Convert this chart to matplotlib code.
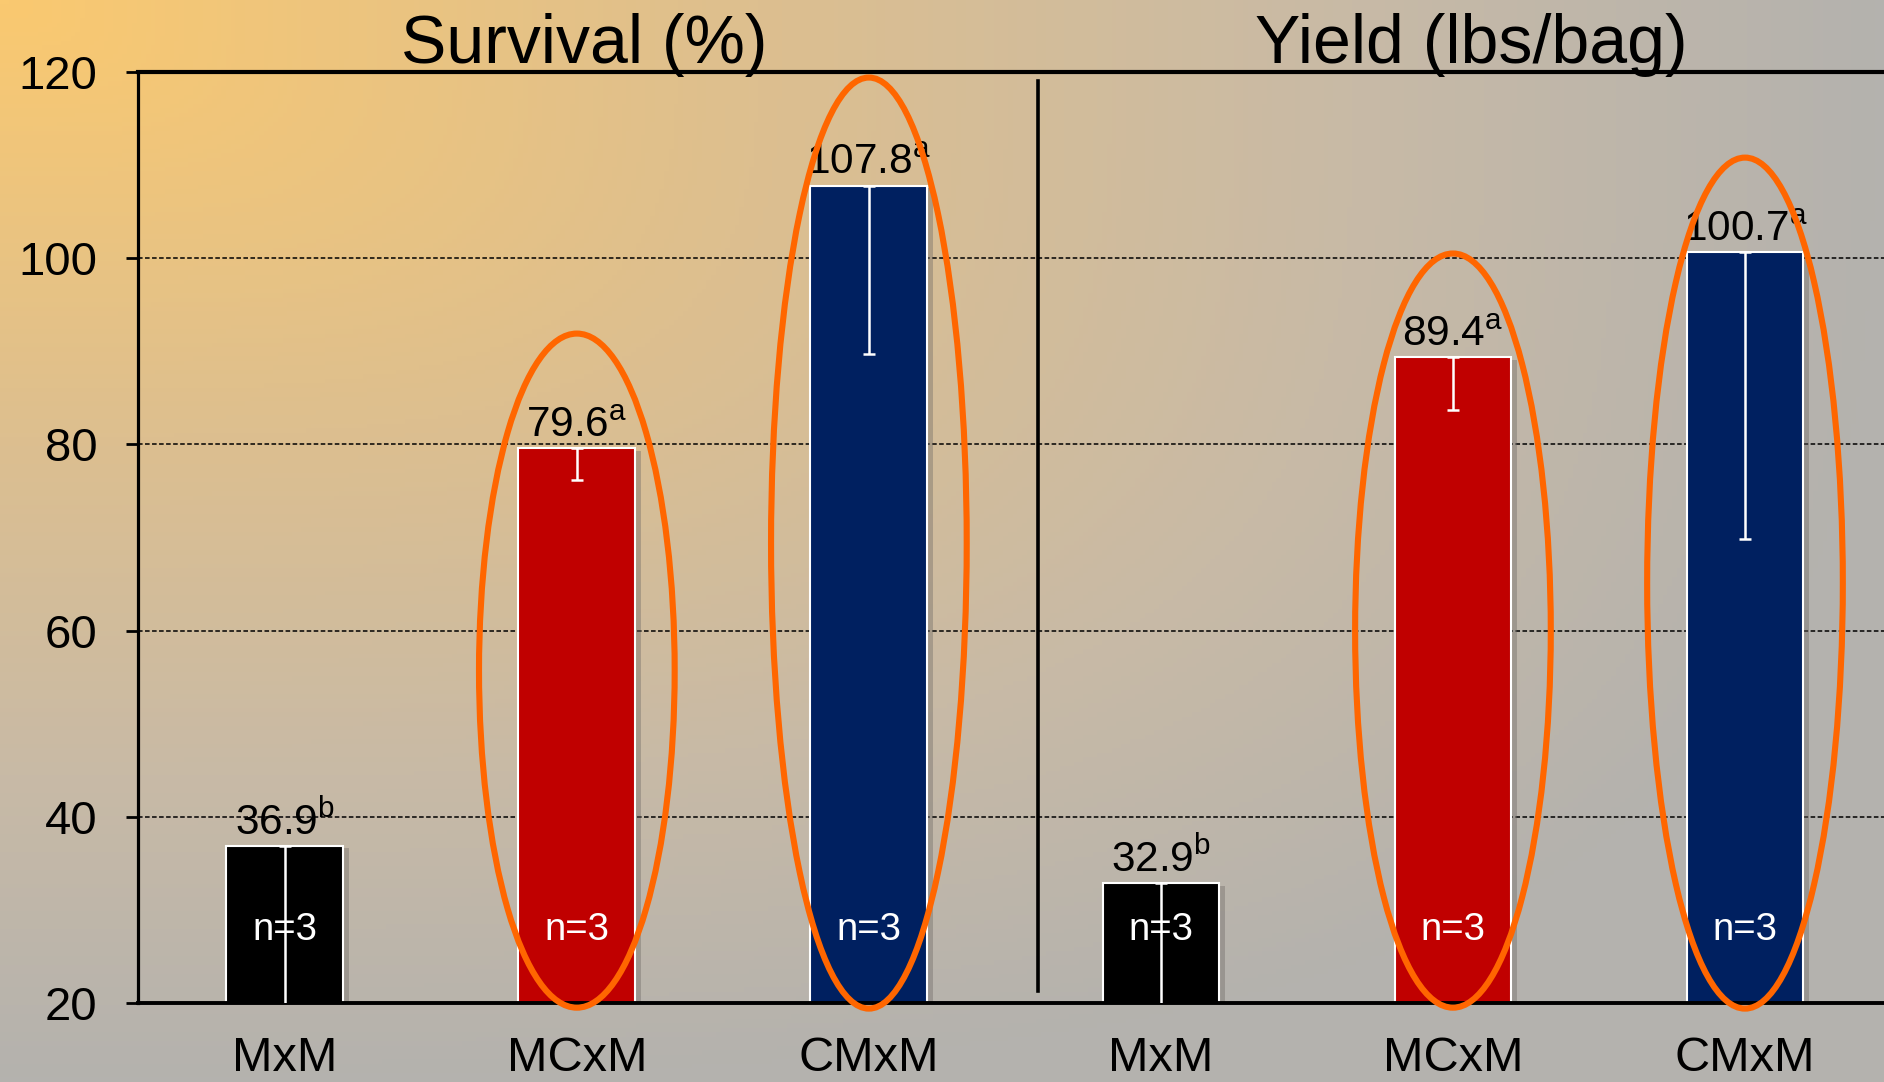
import matplotlib
matplotlib.use('Agg')
import matplotlib.pyplot as plt
import matplotlib.patheffects as pe
from matplotlib.colors import LinearSegmentedColormap
from matplotlib.patches import Ellipse
import numpy as np

plt.rcParams['font.family'] = ['Liberation Sans', 'DejaVu Sans']
plt.rcParams['mathtext.fontset'] = 'custom'
plt.rcParams['mathtext.rm'] = 'Liberation Sans'
plt.rcParams['mathtext.it'] = 'Liberation Sans'

# two panels, three crosses each
panel_titles = ['Survival (%)', 'Yield (lbs/bag)']
crosses = ['MxM', 'MCxM', 'CMxM']
survival = [36.9, 79.6, 107.8]
survival_err = [20.0, 3.4, 18.1]
survival_sig = ['b', 'a', 'a']
yield_lbs = [32.9, 89.4, 100.7]
yield_err = [16.0, 5.7, 30.9]
yield_sig = ['b', 'a', 'a']
n_reps = [3, 3, 3, 3, 3, 3]
# highlighted crosses (index, ellipse top, ellipse bottom)
highlight_idx = [1, 2, 4, 5]
highlight_top = [91.9, 119.4, 100.5, 110.8]
highlight_bottom = [19.5, 19.4, 19.5, 19.4]

bar_colors = ['#000000', '#C00000', '#002060'] * 2

values = survival + yield_lbs
errs = survival_err + yield_err
sig = survival_sig + yield_sig
labels = crosses + crosses
x = np.arange(len(values))

fig = plt.figure(figsize=(18.84, 10.82), dpi=100)

# background gradient: warm orange in the top-left corner fading to grey
bg = fig.add_axes([0, 0, 1, 1], zorder=-5)
gx, gy = np.meshgrid(np.linspace(0, 1, 400), np.linspace(0, 1, 240))
t = np.clip((gx ** 3.5 + gy ** 3.5) ** (1 / 3.5), 0, 1)
cmap = LinearSegmentedColormap.from_list(
    'bg', [(0.0, '#FAC970'), (0.4, '#DDBF8F'), (0.72, '#C8BAA6'), (1.0, '#B4B2AE')])
bg.imshow(t, cmap=cmap, vmin=0, vmax=1, aspect='auto', extent=(0, 1, 0, 1), origin='upper')
bg.axis('off')

ax = fig.add_axes([0.0732, 0.073, 0.9268, 0.8605])
ax.set_facecolor('none')
ax.set_xlim(-0.503, 5.476)
ax.set_ylim(20, 120)

ax.yaxis.grid(True, color='black', lw=1.1, dashes=(3, 1.6), zorder=0)
ax.set_axisbelow(True)

shadow = [pe.SimplePatchShadow(offset=(4, -2), shadow_rgbFace='#6f6a66', alpha=0.4), pe.Normal()]
bars = ax.bar(x, values, width=0.4, bottom=0, color=bar_colors, edgecolor='white',
              linewidth=1.5, zorder=2)
for b in bars:
    b.set_path_effects(shadow)

ax.errorbar(x, values, yerr=[errs, [0] * len(errs)], fmt='none', ecolor='white',
            elinewidth=1.8, capsize=4.5, capthick=1.8, zorder=3)

for xi, v, s in zip(x, values, sig):
    ax.annotate(f'{v:.1f}$^{{\\mathrm{{{s}}}}}$', (xi, v), xytext=(0, 8),
                textcoords='offset points', ha='center', va='baseline',
                fontsize=30.5, color='black', zorder=5)

for xi, n in zip(x, n_reps):
    ax.text(xi, 27.8, f'n={n}', ha='center', va='center', fontsize=27.5,
            color='white', zorder=5)

# divider between the two panels
ax.plot([2.58, 2.58], [21.3, 119.0], color='black', lw=2.6, zorder=3)

for i, top, bot in zip(highlight_idx, highlight_top, highlight_bottom):
    ax.add_patch(Ellipse((x[i], (top + bot) / 2), width=0.67, height=top - bot,
                         fill=False, ec='#FF6600', lw=4.4, clip_on=False, zorder=10))

ax.set_xticks(x)
ax.set_xticklabels(labels)
ax.set_yticks([20, 40, 60, 80, 100, 120])
ax.tick_params(axis='y', length=9, width=2, pad=20, labelsize=34, direction='out')
ax.tick_params(axis='x', length=0, pad=24, labelsize=35)

ax.spines['left'].set_linewidth(2.3)
ax.spines['top'].set_linewidth(3.0)
ax.spines['bottom'].set_linewidth(2.8)
ax.spines['right'].set_visible(False)

fig.text(0.31, 0.942, panel_titles[0], ha='center', va='baseline', fontsize=49)
fig.text(0.781, 0.942, panel_titles[1], ha='center', va='baseline', fontsize=49)

fig.savefig('out.png', dpi=100)
